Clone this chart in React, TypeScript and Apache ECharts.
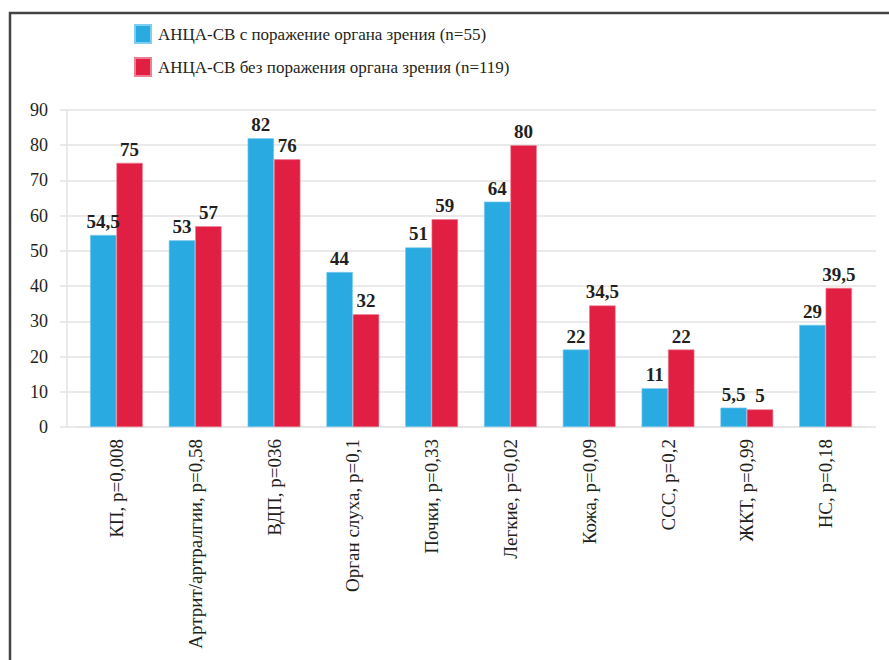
import React, { useEffect, useRef } from "react";
import * as echarts from "echarts";

const categories = [
  "КП, р=0,008",
  "Артрит/артралгии, р=0,58",
  "ВДП, р=036",
  "Орган слуха, р=0,1",
  "Почки, р=0,33",
  "Легкие, р=0,02",
  "Кожа, р=0,09",
  "ССС, р=0,2",
  "ЖКТ, р=0,99",
  "НС, р=0,18",
];

const seriesNames = [
  "АНЦА-СВ с поражение органа зрения (n=55)",
  "АНЦА-СВ без поражения органа зрения (n=119)",
];

const withEyeDamage = [54.5, 53, 82, 44, 51, 64, 22, 11, 5.5, 29];
const withoutEyeDamage = [75, 57, 76, 32, 59, 80, 34.5, 22, 5, 39.5];

const yMin = 0;
const yMax = 90;
const yStep = 10;

const FONT = "Liberation Serif";
const TEXT = "#231f20";
const GRID = "#e3e3e3";
const BLUE = "#29abe2";
const RED = "#e01f43";

const comma = (v: number) => String(v).replace(".", ",");

export default function App() {
  const ref = useRef<HTMLDivElement>(null);

  useEffect(() => {
    if (!ref.current) return;
    const chart = echarts.init(ref.current, null, { renderer: "svg" });

    const barLabel = {
      show: true,
      position: "top" as const,
      distance: 4,
      fontFamily: FONT,
      fontSize: 19,
      fontWeight: "bold" as const,
      color: TEXT,
      formatter: (p: any) => comma(p.value),
    };

    chart.setOption({
      animation: false,
      backgroundColor: "#ffffff",
      textStyle: { fontFamily: FONT },
      legend: {
        orient: "vertical",
        left: 134,
        top: 24,
        padding: 0,
        itemWidth: 16,
        itemHeight: 18,
        itemGap: 13,
        icon: "rect",
        textStyle: { fontFamily: FONT, fontSize: 17, color: TEXT, padding: [0, 0, 0, 2] },
        data: seriesNames,
      },
      grid: { left: 77, right: 24, top: 110, bottom: 233 },
      xAxis: {
        type: "category",
        data: categories,
        axisLine: { show: true, lineStyle: { color: GRID, width: 1.5 } },
        axisTick: { show: false },
        axisLabel: {
          rotate: 90,
          interval: 0,
          margin: 12,
          fontFamily: FONT,
          fontSize: 19,
          color: TEXT,
        },
      },
      yAxis: [
        {
          type: "value",
          min: yMin,
          max: yMax,
          interval: yStep,
          axisLine: { show: false },
          axisTick: { show: true, length: 17, lineStyle: { color: GRID, width: 1.5 } },
          splitLine: { show: true, lineStyle: { color: GRID, width: 1.5 } },
          axisLabel: { margin: 29, fontFamily: FONT, fontSize: 18, color: TEXT },
        },
        {
          type: "value",
          position: "right",
          min: yMin,
          max: yMax,
          interval: yStep,
          axisLine: { show: false },
          axisTick: { show: true, length: 11, lineStyle: { color: GRID, width: 1.5 } },
          splitLine: { show: false },
          axisLabel: { show: false },
        },
      ],
      graphic: [
        {
          type: "rect",
          shape: { x: 10, y: 13, width: 900, height: 700 },
          style: { fill: "none", stroke: "#444444", lineWidth: 2.5 },
          silent: true,
        },
        {
          type: "line",
          shape: { x1: 67, y1: 110, x2: 67, y2: 427 },
          style: { stroke: GRID, lineWidth: 1.5 },
          silent: true,
        },
      ],
      series: [
        {
          name: seriesNames[0],
          type: "bar",
          data: withEyeDamage,
          barGap: "0%",
          barCategoryGap: "33%",
          itemStyle: { color: BLUE, borderColor: "#7fcdef", borderWidth: 0.6 },
          label: barLabel,
        },
        {
          name: seriesNames[1],
          type: "bar",
          data: withoutEyeDamage,
          barGap: "0%",
          barCategoryGap: "33%",
          itemStyle: { color: RED, borderColor: "#ee7f92", borderWidth: 0.6 },
          label: barLabel,
        },
      ],
    });

    return () => chart.dispose();
  }, []);

  return (
    <div
      ref={ref}
      style={{ position: "fixed", left: 0, top: 0, width: 889, height: 660 }}
    />
  );
}
